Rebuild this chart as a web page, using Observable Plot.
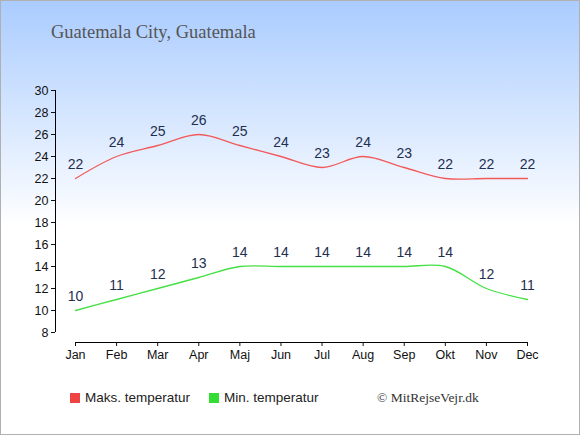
<!DOCTYPE html>
<html>
<head>
<meta charset="utf-8">
<script src="https://cdn.jsdelivr.net/npm/d3@7"></script>
<script src="https://cdn.jsdelivr.net/npm/@observablehq/plot@0.6"></script>
<style>
  html, body { margin: 0; padding: 0; }
  #wrap {
    position: relative; width: 578px; height: 433px;
    border: 1px solid #b0b0b0;
    background: linear-gradient(to bottom, #aaccff 0%, #ffffff 52%, #ffffff 100%);
    overflow: hidden;
  }
  #title {
    position: absolute; left: 50px; top: 21px;
    font-family: "Liberation Serif", serif; font-size: 18.5px; color: #555;
  }
  #chart { position: absolute; left: 0; top: 0; }
  .leg { position: absolute; top: 389px; font-family: "Liberation Sans", Arial, sans-serif; font-size: 13.5px; color: #222; line-height: 16px; }
  .sw { display: inline-block; width: 10px; height: 10px; vertical-align: -1px; margin-right: 5px; }
  #copy { position: absolute; left: 376px; top: 389px; font-family: "Liberation Serif", serif; font-size: 13.5px; color: #333; line-height: 16px; }
</style>
</head>
<body>
<div id="wrap">
  <div id="title">Guatemala City, Guatemala</div>
  <div id="chart"></div>
  <div class="leg" style="left:69px"><span class="sw" style="background:#ee4444"></span>Maks. temperatur</div>
  <div class="leg" style="left:208px"><span class="sw" style="background:#33dd33"></span>Min. temperatur</div>
  <div id="copy">© MitRejseVejr.dk</div>
</div>
<script>
const months = ["Jan","Feb","Mar","Apr","Maj","Jun","Jul","Aug","Sep","Okt","Nov","Dec"];
const maxTemp = [22,24,25,26,25,24,23,24,23,22,22,22];
const minTemp = [10,11,12,13,14,14,14,14,14,14,12,11];
const yTicks = [8,10,12,14,16,18,20,22,24,26,28,30];

const maxData = months.map((m, i) => ({i, v: maxTemp[i]}));
const minData = months.map((m, i) => ({i, v: minTemp[i]}));
const idx = months.map((m, i) => i);

const labelStyle = {fontSize: 14, fill: "#1f2f4f", fontFamily: "Liberation Sans, Arial, sans-serif"};

const plot = Plot.plot({
  width: 578,
  height: 365,
  marginLeft: 54,
  marginRight: 52,
  marginTop: 89,
  marginBottom: 24,
  insetLeft: 20,
  insetBottom: 10,
  style: {background: "transparent", overflow: "visible", fontFamily: "Liberation Sans, Arial, sans-serif"},
  x: {domain: [0, 11]},
  y: {domain: [8, 30]},
  marks: [
    Plot.ruleX([0], {y1: 8, y2: 30, dx: -20, stroke: "#000"}),
    Plot.ruleY([8], {x1: 0, x2: 11, dy: 10, stroke: "#000"}),
    Plot.axisY({ticks: yTicks, tickSize: 4, tickPadding: 3, fontSize: 12.5, color: "#111", label: null}),
    Plot.axisX({ticks: idx, tickFormat: i => months[i], tickSize: 4, tickPadding: 4, fontSize: 12.5, color: "#111", label: null}),
    Plot.line(maxData, {x: "i", y: "v", stroke: "#f25a5a", strokeWidth: 1.3, curve: "catmull-rom"}),
    Plot.line(minData, {x: "i", y: "v", stroke: "#44e044", strokeWidth: 1.3, curve: "catmull-rom"}),
    Plot.text(maxData, {x: "i", y: "v", text: "v", dy: -14, ...labelStyle}),
    Plot.text(minData, {x: "i", y: "v", text: "v", dy: -14, ...labelStyle})
  ]
});
document.getElementById("chart").appendChild(plot);
</script>
</body>
</html>
